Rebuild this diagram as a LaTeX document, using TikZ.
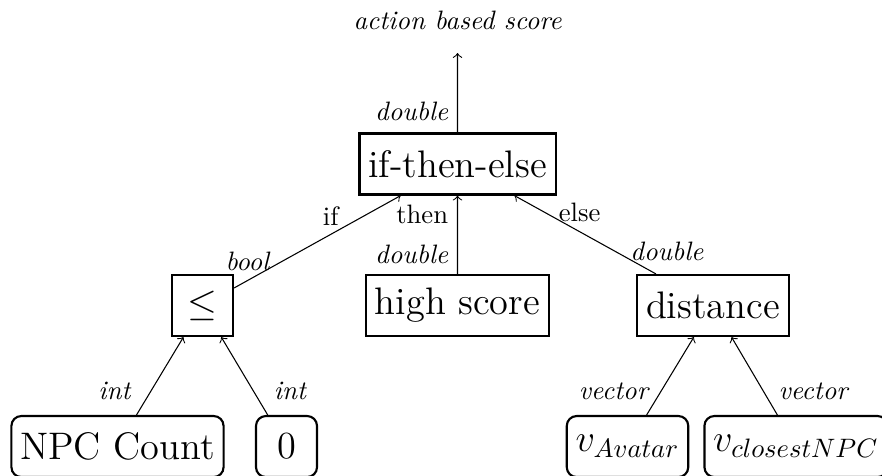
\documentclass[tikz,border=0pt]{standalone}
\usetikzlibrary{positioning}
\begin{document}
\begin{tikzpicture}[scale=.935,
    box/.style={draw, thick, font=\Large, inner sep=3.3pt, minimum size=22.9pt},
    leaf/.style={box, rounded corners=3.7pt},
    ty/.style={font=\itshape}]
\useasboundingbox (0,0) rectangle (12.446,6.703);
\node[box](ite) at (6.456,4.388){if-then-else};
\node[box](leq) at (2.857,2.392){$\leq$};
\node[box](high) at (6.456,2.392){high score};
\node[box](dist) at (10.061,2.392){distance};
\node[leaf](npc) at (1.658,0.402){NPC Count};
\node[leaf](zero) at (4.043,0.402){0};
\node[leaf](vav) at (8.855,0.402){$v_{Avatar}$};
\node[leaf](vnpc) at (11.232,0.402){$v_{closestNPC}$};
\coordinate (out) at (6.456,5.955);
\node[ty, above=5pt of out](score){action based score};

\draw[->](ite)--node[ty, pos=.26, left](tite){double}(out);
\draw[->](leq)--node[ty, pos=.08, above](tleq){bool}
    node[pos=.58, above](lif){if}(ite);
\draw[->](high)--node[ty, pos=.25, left](thigh){double}
    node[pos=.76, left](lthen){then}(ite);
\draw[->](dist)--node[ty, pos=0, above, xshift=4.1pt, yshift=1.3pt](tdist){double}
    node[pos=.54, above](lelse){else}(ite);
\draw[->](npc)--node[ty, pos=.07, above left](tnpc){int}(leq);
\draw[->](zero)--node[ty, pos=.07, above right](tzero){int}(leq);
\draw[->](vav)--node[ty, pos=.07, above left, xshift=2.8pt](tvav){vector}(dist);
\draw[->](vnpc)--node[ty, pos=.07, above right, xshift=-1.9pt](tvnpc){vector}(dist);
\end{tikzpicture}
\end{document}
